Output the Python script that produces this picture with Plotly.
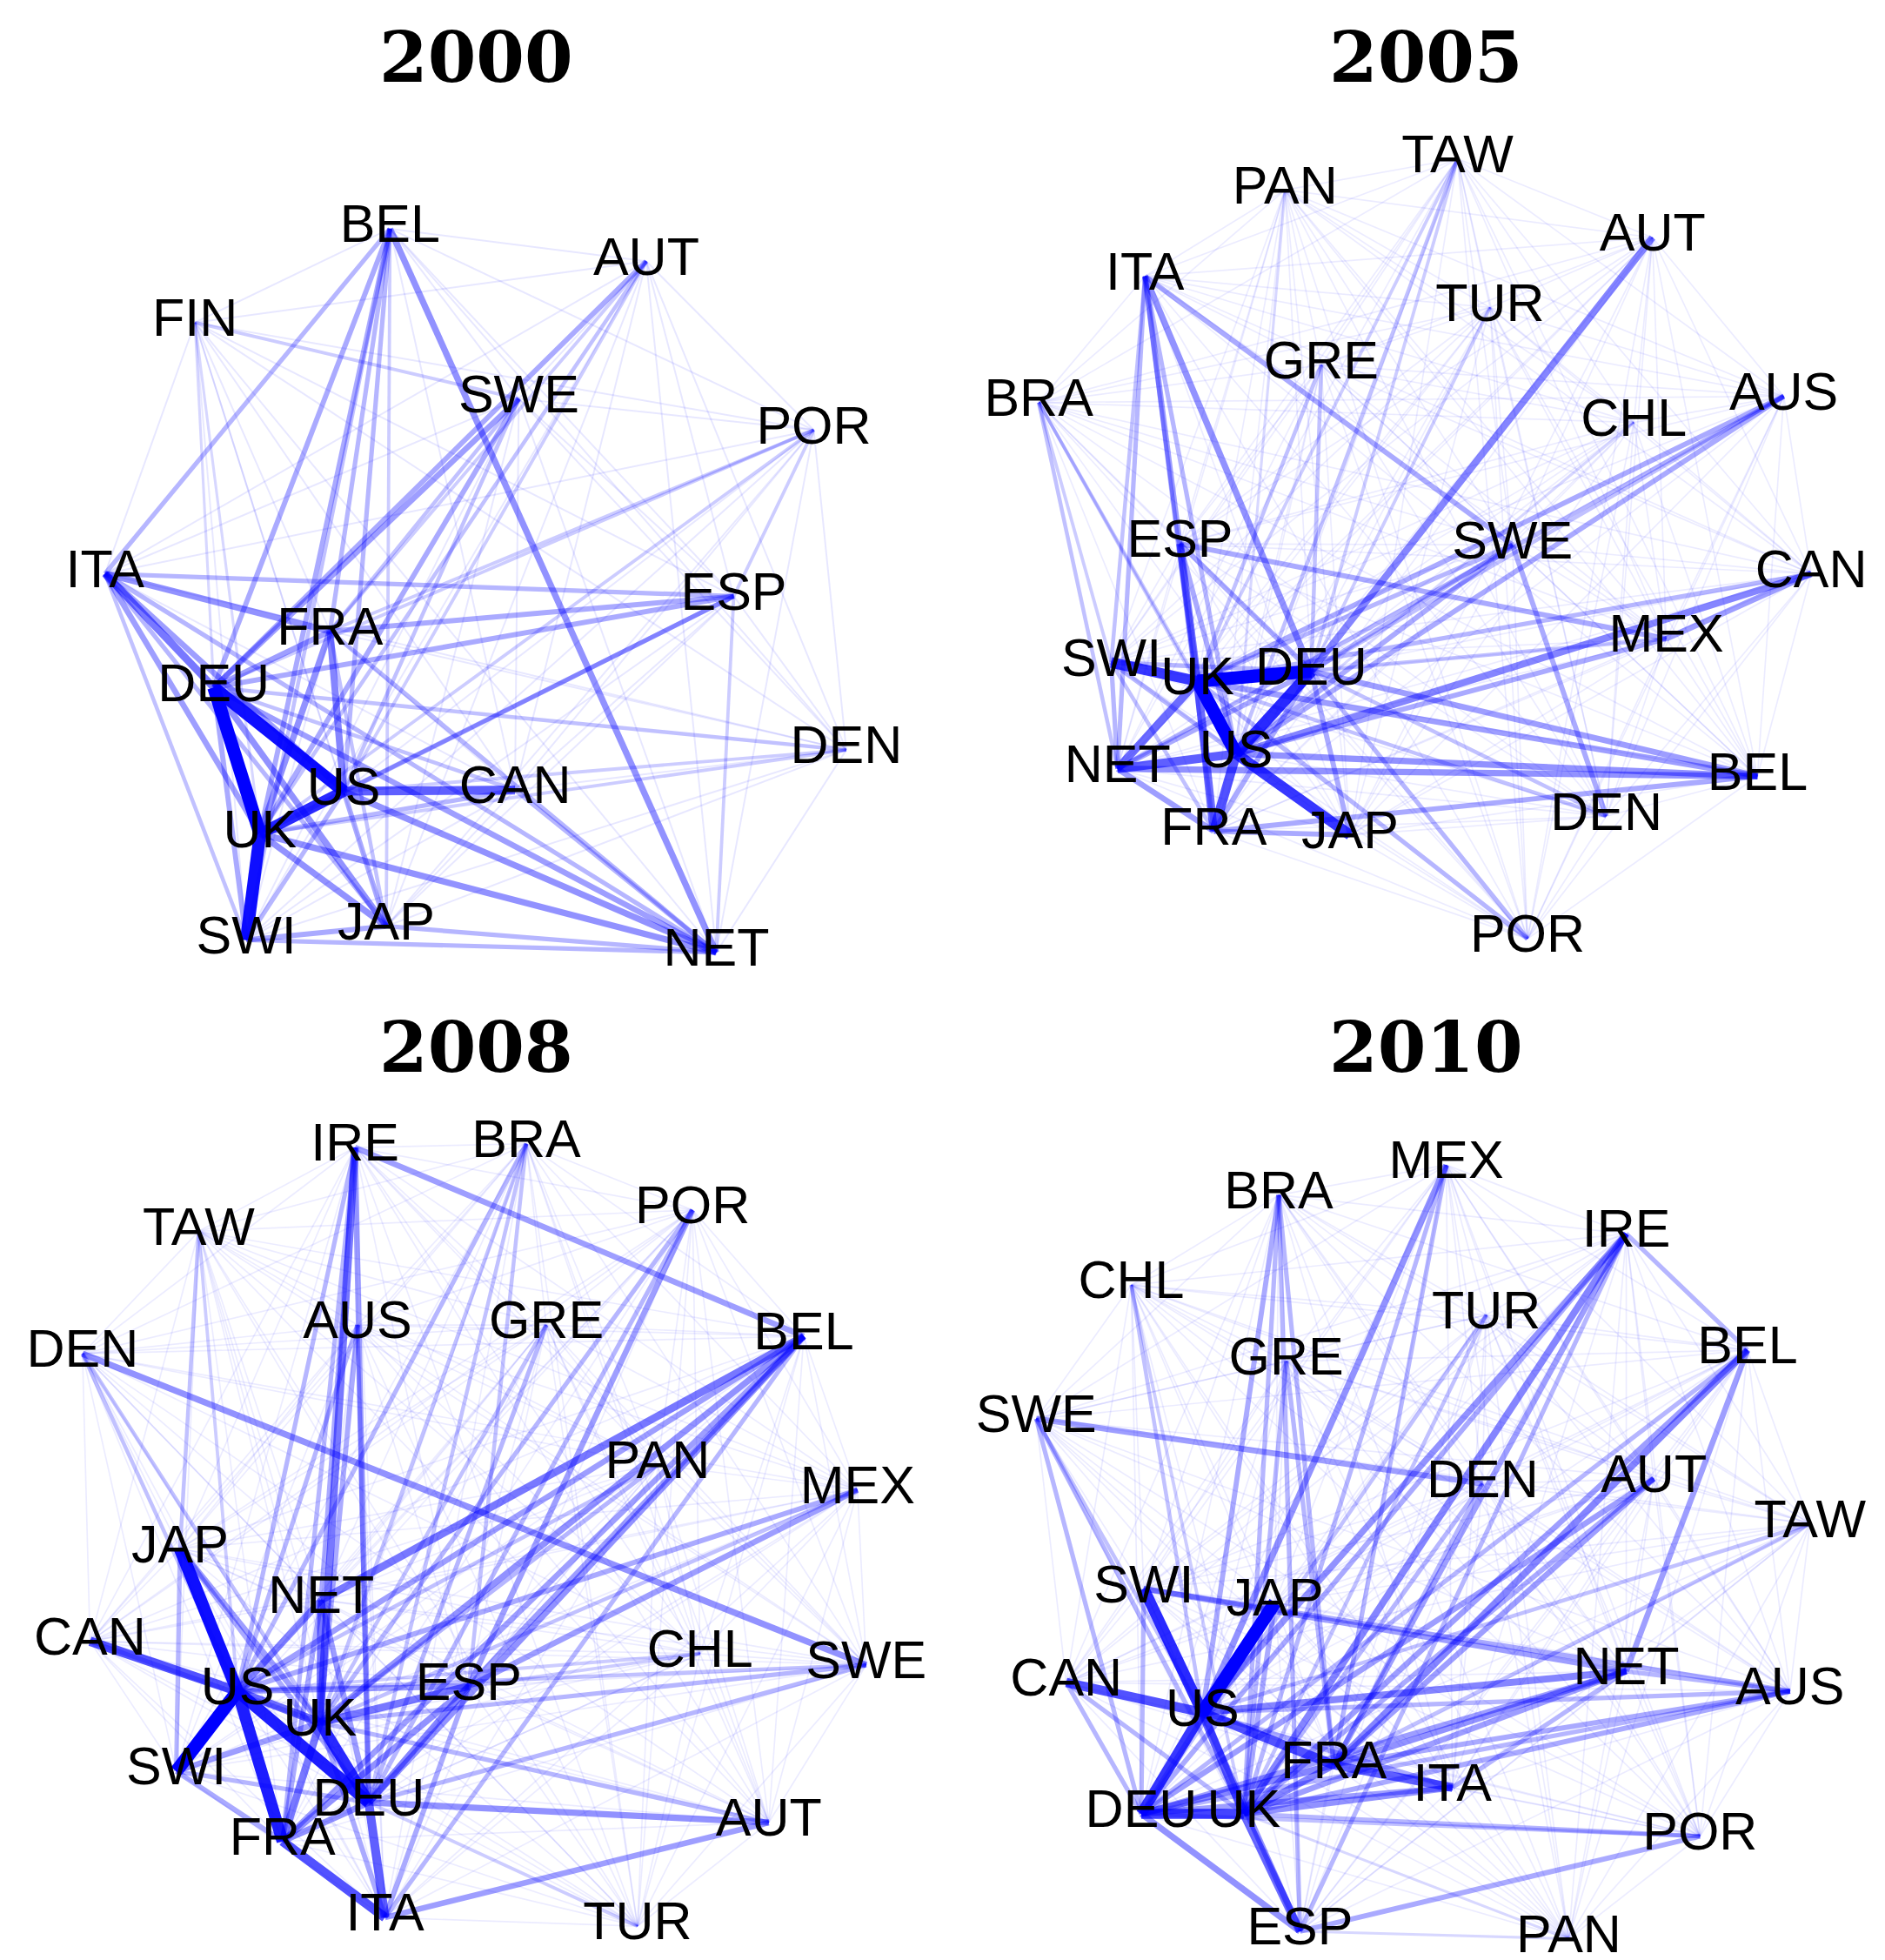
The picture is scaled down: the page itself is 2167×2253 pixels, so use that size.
import itertools
import plotly.graph_objects as go

# ---------------- data ----------------
panel_titles = ["2000", "2005", "2008", "2010"]
title_x = [381, 1141, 381, 1141]
title_y = [46, 46, 838, 838]

nodes_2000 = ["BEL", "AUT", "FIN", "SWE", "POR", "ITA", "ESP", "FRA", "DEU", "DEN",
              "CAN", "US", "UK", "JAP", "SWI", "NET"]
x_2000 = [312, 517, 156, 415, 651, 84, 587, 264, 171, 677, 412, 275, 208, 309, 197, 573]
y_2000 = [183, 209, 258, 319, 344, 459, 477, 505, 550, 600, 632, 633, 667, 741, 752, 762]
edges_2000 = [
    ("DEU", "UK", 1.0), ("UK", "SWI", 0.95), ("DEU", "US", 0.95), ("UK", "US", 0.85),
    ("US", "CAN", 0.65), ("ITA", "DEU", 0.55), ("FRA", "US", 0.5), ("FRA", "UK", 0.45),
    ("DEU", "FRA", 0.4), ("ITA", "FRA", 0.45), ("DEU", "JAP", 0.45), ("UK", "JAP", 0.45),
    ("US", "JAP", 0.35), ("UK", "NET", 0.45), ("US", "NET", 0.45), ("DEU", "NET", 0.4),
    ("BEL", "NET", 0.45), ("BEL", "DEU", 0.35), ("BEL", "UK", 0.35), ("BEL", "US", 0.3),
    ("BEL", "FRA", 0.3), ("BEL", "ITA", 0.3), ("SWE", "UK", 0.35), ("SWE", "DEU", 0.4),
    ("AUT", "DEU", 0.35), ("AUT", "UK", 0.25), ("ESP", "FRA", 0.35), ("ESP", "DEU", 0.35),
    ("ESP", "UK", 0.3), ("ESP", "ITA", 0.3), ("ESP", "US", 0.3), ("SWI", "JAP", 0.35),
    ("SWI", "NET", 0.3), ("JAP", "NET", 0.3), ("DEU", "SWI", 0.35), ("US", "SWI", 0.3),
    ("CAN", "UK", 0.3), ("CAN", "DEU", 0.25), ("CAN", "NET", 0.3), ("DEN", "DEU", 0.25),
    ("DEN", "UK", 0.2), ("DEN", "US", 0.2), ("POR", "DEU", 0.2), ("POR", "UK", 0.2),
    ("POR", "ESP", 0.2), ("POR", "FRA", 0.2), ("FIN", "DEU", 0.15), ("FIN", "SWE", 0.2),
    ("FIN", "UK", 0.15), ("ITA", "US", 0.4), ("ITA", "UK", 0.4), ("ITA", "SWI", 0.25),
    ("ITA", "JAP", 0.3), ("ITA", "NET", 0.3), ("SWE", "US", 0.25), ("SWE", "FRA", 0.25),
    ("AUT", "US", 0.2), ("AUT", "FRA", 0.2), ("ESP", "NET", 0.2), ("FRA", "NET", 0.3),
    ("FRA", "JAP", 0.25), ("BEL", "SWI", 0.25), ("BEL", "JAP", 0.2),
]
base_2000 = 0.07

nodes_2005 = ["TAW", "PAN", "AUT", "ITA", "TUR", "GRE", "BRA", "AUS", "CHL", "ESP", "SWE",
              "CAN", "MEX", "SWI", "UK", "DEU", "US", "NET", "BEL", "DEN", "FRA", "JAP", "POR"]
x_2005 = [1166, 1028, 1322, 916, 1192, 1057, 831, 1427, 1307, 944, 1210,
          1449, 1333, 889, 958, 1049, 989, 894, 1406, 1285, 971, 1080, 1222]
y_2005 = [127, 152, 190, 221, 246, 292, 322, 317, 338, 435, 436,
          459, 511, 530, 545, 537, 603, 615, 621, 653, 665, 668, 751]
edges_2005 = [
    ("UK", "DEU", 1.0), ("UK", "US", 1.0), ("SWI", "UK", 0.8), ("US", "DEU", 0.85),
    ("US", "JAP", 0.8), ("US", "FRA", 0.7), ("UK", "FRA", 0.6), ("NET", "US", 0.65),
    ("NET", "UK", 0.6), ("ITA", "DEU", 0.45), ("ITA", "UK", 0.4), ("ITA", "NET", 0.3),
    ("ITA", "SWE", 0.35), ("ITA", "SWI", 0.25), ("ESP", "UK", 0.55), ("ESP", "DEU", 0.35),
    ("ESP", "MEX", 0.35), ("ESP", "US", 0.35), ("AUT", "DEU", 0.5), ("CAN", "US", 0.5),
    ("CAN", "MEX", 0.4), ("MEX", "US", 0.35), ("BEL", "US", 0.45), ("BEL", "NET", 0.45),
    ("BEL", "UK", 0.4), ("BEL", "DEU", 0.4), ("BEL", "FRA", 0.35), ("AUS", "US", 0.35),
    ("AUS", "UK", 0.35), ("AUS", "NET", 0.3), ("SWE", "US", 0.35), ("SWE", "DEU", 0.3),
    ("SWE", "UK", 0.3), ("SWE", "DEN", 0.35), ("JAP", "FRA", 0.35), ("JAP", "DEU", 0.35),
    ("POR", "DEU", 0.3), ("POR", "UK", 0.3), ("TAW", "US", 0.25), ("TAW", "DEU", 0.2),
    ("GRE", "DEU", 0.25), ("GRE", "UK", 0.25), ("BRA", "US", 0.2), ("BRA", "NET", 0.25),
    ("FRA", "NET", 0.4), ("SWI", "NET", 0.3), ("SWI", "DEU", 0.3), ("TUR", "DEU", 0.2),
    ("CHL", "US", 0.15), ("PAN", "US", 0.15), ("ITA", "US", 0.3), ("ITA", "FRA", 0.3),
    ("DEU", "NET", 0.35), ("DEU", "FRA", 0.35), ("SWI", "US", 0.3), ("SWI", "FRA", 0.25),
    ("CAN", "UK", 0.3), ("MEX", "UK", 0.25), ("DEN", "UK", 0.25), ("DEN", "DEU", 0.25),
    ("BRA", "UK", 0.2), ("BRA", "SWI", 0.2), ("TAW", "UK", 0.2), ("AUS", "DEU", 0.25),
]
base_2005 = 0.05

nodes_2008 = ["IRE", "BRA", "POR", "TAW", "AUS", "GRE", "DEN", "BEL", "PAN", "MEX", "JAP", "NET",
              "CAN", "CHL", "SWE", "ESP", "US", "UK", "SWI", "DEU", "AUT", "FRA", "ITA", "TUR"]
x_2008 = [284, 421, 554, 159, 286, 437, 66, 643, 526, 686, 144, 257,
          72, 560, 693, 375, 190, 256, 141, 295, 615, 226, 308, 510]
y_2008 = [918, 915, 968, 985, 1060, 1060, 1083, 1069, 1172, 1192, 1239, 1280,
          1313, 1323, 1332, 1349, 1353, 1378, 1417, 1442, 1458, 1473, 1534, 1541]
edges_2008 = [
    ("US", "SWI", 1.0), ("US", "JAP", 0.95), ("US", "FRA", 0.9), ("US", "DEU", 0.9),
    ("UK", "DEU", 0.85), ("UK", "FRA", 0.55), ("US", "UK", 0.6), ("US", "CAN", 0.7),
    ("FRA", "ITA", 0.7), ("DEU", "ITA", 0.65), ("NET", "US", 0.5), ("NET", "UK", 0.55),
    ("IRE", "UK", 0.55), ("IRE", "DEU", 0.4), ("IRE", "NET", 0.35), ("IRE", "BEL", 0.4),
    ("IRE", "FRA", 0.3), ("IRE", "US", 0.3), ("AUS", "UK", 0.35), ("AUS", "US", 0.3),
    ("BEL", "NET", 0.55), ("BEL", "US", 0.4), ("BEL", "UK", 0.45), ("BEL", "DEU", 0.45),
    ("BEL", "ESP", 0.4), ("BEL", "FRA", 0.4), ("ESP", "UK", 0.55), ("ESP", "DEU", 0.5),
    ("ESP", "FRA", 0.45), ("ESP", "US", 0.4), ("ESP", "ITA", 0.35), ("DEN", "SWE", 0.45),
    ("DEN", "US", 0.25), ("DEN", "UK", 0.25), ("MEX", "US", 0.35), ("MEX", "ESP", 0.4),
    ("AUT", "DEU", 0.45), ("AUT", "ITA", 0.4), ("AUT", "UK", 0.3), ("SWE", "DEU", 0.3),
    ("SWE", "UK", 0.3), ("POR", "ESP", 0.4), ("POR", "UK", 0.3), ("POR", "DEU", 0.3),
    ("BRA", "US", 0.3), ("BRA", "UK", 0.25), ("BRA", "DEU", 0.25), ("BRA", "ESP", 0.25),
    ("GRE", "DEU", 0.3), ("GRE", "UK", 0.25), ("PAN", "US", 0.25), ("PAN", "UK", 0.3),
    ("JAP", "SWI", 0.3), ("JAP", "UK", 0.4), ("JAP", "DEU", 0.35), ("SWI", "UK", 0.4),
    ("SWI", "FRA", 0.35), ("SWI", "DEU", 0.3), ("TAW", "US", 0.2), ("TAW", "JAP", 0.25),
    ("CHL", "US", 0.2), ("CHL", "ESP", 0.2), ("TUR", "DEU", 0.2), ("CAN", "UK", 0.3),
    ("NET", "DEU", 0.4), ("NET", "FRA", 0.35), ("AUS", "DEU", 0.3), ("BEL", "ITA", 0.3),
    ("MEX", "UK", 0.25), ("SWE", "US", 0.25), ("FRA", "DEU", 0.45), ("ITA", "UK", 0.35),
]
base_2008 = 0.05

nodes_2010 = ["MEX", "BRA", "IRE", "CHL", "TUR", "GRE", "BEL", "SWE", "DEN", "AUT", "TAW", "SWI",
              "JAP", "NET", "CAN", "AUS", "US", "FRA", "ITA", "DEU", "UK", "POR", "ESP", "PAN"]
x_2010 = [1157, 1023, 1301, 905, 1189, 1029, 1398, 829, 1186, 1323, 1448, 915,
          1020, 1301, 853, 1432, 962, 1067, 1162, 913, 995, 1360, 1040, 1255]
y_2010 = [932, 956, 987, 1028, 1052, 1089, 1080, 1135, 1187, 1183, 1219, 1271,
          1282, 1337, 1346, 1353, 1370, 1412, 1430, 1451, 1451, 1469, 1545, 1551]
edges_2010 = [
    ("US", "JAP", 1.0), ("US", "SWI", 0.85), ("US", "DEU", 0.8), ("US", "CAN", 0.7),
    ("US", "FRA", 0.7), ("US", "UK", 0.65), ("DEU", "UK", 0.75), ("FRA", "ITA", 0.65),
    ("UK", "ESP", 0.6), ("DEU", "ESP", 0.45), ("DEU", "FRA", 0.5), ("UK", "FRA", 0.5),
    ("UK", "ITA", 0.45), ("DEU", "ITA", 0.4), ("US", "NET", 0.5), ("FRA", "NET", 0.45),
    ("UK", "NET", 0.4), ("DEU", "NET", 0.4), ("IRE", "UK", 0.5), ("IRE", "US", 0.45),
    ("IRE", "FRA", 0.4), ("IRE", "DEU", 0.35), ("IRE", "BEL", 0.3), ("BEL", "FRA", 0.5),
    ("BEL", "UK", 0.4), ("BEL", "NET", 0.4), ("AUT", "DEU", 0.4), ("AUT", "UK", 0.35),
    ("MEX", "US", 0.45), ("MEX", "UK", 0.3), ("BRA", "US", 0.35), ("BRA", "FRA", 0.3),
    ("BRA", "ESP", 0.3), ("BRA", "UK", 0.3), ("SWE", "DEN", 0.4), ("SWE", "DEU", 0.3),
    ("SWE", "US", 0.25), ("SWE", "UK", 0.3), ("SWI", "NET", 0.4), ("SWI", "AUS", 0.35),
    ("SWI", "DEU", 0.3), ("AUS", "US", 0.3), ("AUS", "UK", 0.35), ("AUS", "FRA", 0.35),
    ("AUS", "NET", 0.3), ("TAW", "US", 0.25), ("TAW", "FRA", 0.25), ("POR", "ESP", 0.35),
    ("POR", "UK", 0.3), ("POR", "DEU", 0.25), ("GRE", "UK", 0.3), ("GRE", "FRA", 0.3),
    ("CHL", "US", 0.25), ("CHL", "UK", 0.2), ("JAP", "UK", 0.35), ("JAP", "DEU", 0.3),
    ("CAN", "DEU", 0.3), ("CAN", "UK", 0.3), ("PAN", "ESP", 0.15), ("PAN", "UK", 0.15),
    ("TUR", "UK", 0.25), ("TUR", "DEU", 0.25), ("DEN", "UK", 0.3), ("DEN", "FRA", 0.3),
    ("AUT", "FRA", 0.4), ("IRE", "ESP", 0.3), ("MEX", "FRA", 0.3), ("US", "ESP", 0.45),
    ("ITA", "NET", 0.3), ("ITA", "US", 0.35), ("AUS", "DEU", 0.3), ("BEL", "DEU", 0.3),
]
base_2010 = 0.05

panels = [
    (nodes_2000, x_2000, y_2000, edges_2000, base_2000),
    (nodes_2005, x_2005, y_2005, edges_2005, base_2005),
    (nodes_2008, x_2008, y_2008, edges_2008, base_2008),
    (nodes_2010, x_2010, y_2010, edges_2010, base_2010),
]

# ---------------- figure ----------------
fig = go.Figure()

for nodes, xs, ys, edges, base in panels:
    pos = {n: (x, y) for n, x, y in zip(nodes, xs, ys)}
    wmap = {frozenset((a, b)): w for a, b, w in edges}
    groups = {}
    for a, b in itertools.combinations(nodes, 2):
        w = wmap.get(frozenset((a, b)), base)
        groups.setdefault(w, []).append((a, b))
    for w in sorted(groups):
        ex, ey = [], []
        for a, b in groups[w]:
            ex += [pos[a][0], pos[b][0], None]
            ey += [pos[a][1], pos[b][1], None]
        alpha = 0.05 + 0.95 * (w ** 1.15)
        fig.add_trace(go.Scatter(
            x=ex, y=ey, mode="lines",
            line=dict(color=f"rgba(0,0,255,{alpha:.3f})", width=1.0 + 14.0 * w),
            hoverinfo="skip", showlegend=False,
        ))

for nodes, xs, ys, edges, base in panels:
    fig.add_trace(go.Scatter(
        x=xs, y=ys, mode="text", text=nodes, textposition="middle center",
        textfont=dict(family="Liberation Sans, Arial, sans-serif", size=61, color="black"),
        hoverinfo="text", showlegend=False,
    ))

for t, tx, ty in zip(panel_titles, title_x, title_y):
    fig.add_annotation(
        x=tx, y=ty, xref="x", yref="y", text=f"<b>{t}</b>", showarrow=False,
        font=dict(family="DejaVu Serif, serif", size=80, color="black"),
        xanchor="center", yanchor="middle",
    )

# the page body has an 8px margin; shrink the figure and shift the ranges so that
# the drawing lands where the reference has it in the 2167x2253 window
fig.update_layout(
    width=2159, height=2245,
    margin=dict(l=0, r=0, t=0, b=0),
    paper_bgcolor="white", plot_bgcolor="white",
    xaxis=dict(range=[5.567, 1508], visible=False, fixedrange=True),
    yaxis=dict(range=[1568, 5.568], visible=False, fixedrange=True),
)

fig.write_html("out.html")
